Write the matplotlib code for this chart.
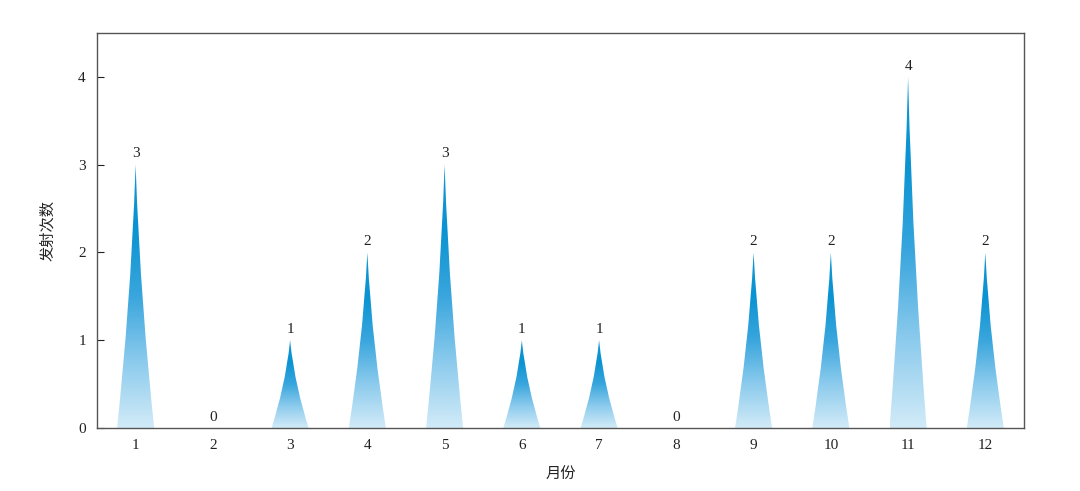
import numpy as np
import matplotlib
matplotlib.use("Agg")
import matplotlib.pyplot as plt
from matplotlib.path import Path
from matplotlib.patches import PathPatch
from matplotlib.colors import LinearSegmentedColormap

# data
months = list(range(1, 13))
launches = [3, 0, 1, 2, 3, 1, 1, 0, 2, 2, 4, 2]
tick_labels = [str(m) for m in months]

plt.rcParams['font.family'] = ['Liberation Serif', 'Noto Sans CJK SC', 'DejaVu Sans']

fig = plt.figure(figsize=(10.8, 4.91), dpi=100)
ax = fig.add_axes([0.0898, 0.1283, 0.8583, 0.8045])

cmap = LinearSegmentedColormap.from_list(
    "spike", ["#d2ebf8", "#8ccbed", "#3aa6dd", "#0a93d2", "#1196d4"])
grad = np.linspace(0, 1, 256).reshape(-1, 1)

w = 0.48  # base width in data units
for x, h in zip(months, launches):
    if h <= 0:
        continue
    # slightly concave spike
    verts = [
        (x - w / 2, 0), (x + w / 2, 0),
        (x + 0.28 * w, 0.3 * h), (x + 0.1 * w, 0.6 * h), (x, h),
        (x - 0.1 * w, 0.6 * h), (x - 0.28 * w, 0.3 * h), (x - w / 2, 0),
        (x - w / 2, 0),
    ]
    codes = [Path.MOVETO, Path.LINETO,
             Path.CURVE4, Path.CURVE4, Path.CURVE4,
             Path.CURVE4, Path.CURVE4, Path.CURVE4,
             Path.CLOSEPOLY]
    patch = PathPatch(Path(verts, codes), facecolor="none", edgecolor="none")
    ax.add_patch(patch)
    im = ax.imshow(grad, extent=[x - w / 2, x + w / 2, 0, h], origin="lower",
                   cmap=cmap, aspect="auto", interpolation="bilinear", zorder=2)
    im.set_clip_path(patch)

for x, h in zip(months, launches):
    ax.annotate(str(h), (x, h), xytext=(0, 3), textcoords="offset points",
                ha="center", va="bottom", fontsize=11, color="#222222")

ax.set_xlim(0.5, 12.5)
ax.set_ylim(0, 4.5)
ax.set_xticks(months)
ax.set_xticklabels(tick_labels)
ax.set_yticks([0, 1, 2, 3, 4])
ax.tick_params(axis="x", length=0, labelsize=11, pad=8, colors="#222222")
ax.tick_params(axis="y", direction="in", length=5, labelsize=11, pad=8,
               colors="#222222")
for s in ax.spines.values():
    s.set_color("#555555")
    s.set_linewidth(1.0)

ax.set_xlabel("月份", family=['Noto Sans CJK SC', 'DejaVu Sans'], fontsize=11,
              labelpad=10, color="#222222")
ax.set_ylabel("发射次数", family=['Noto Sans CJK SC', 'DejaVu Sans'], fontsize=11,
              labelpad=16, color="#222222")

fig.savefig("out.png", dpi=100)
